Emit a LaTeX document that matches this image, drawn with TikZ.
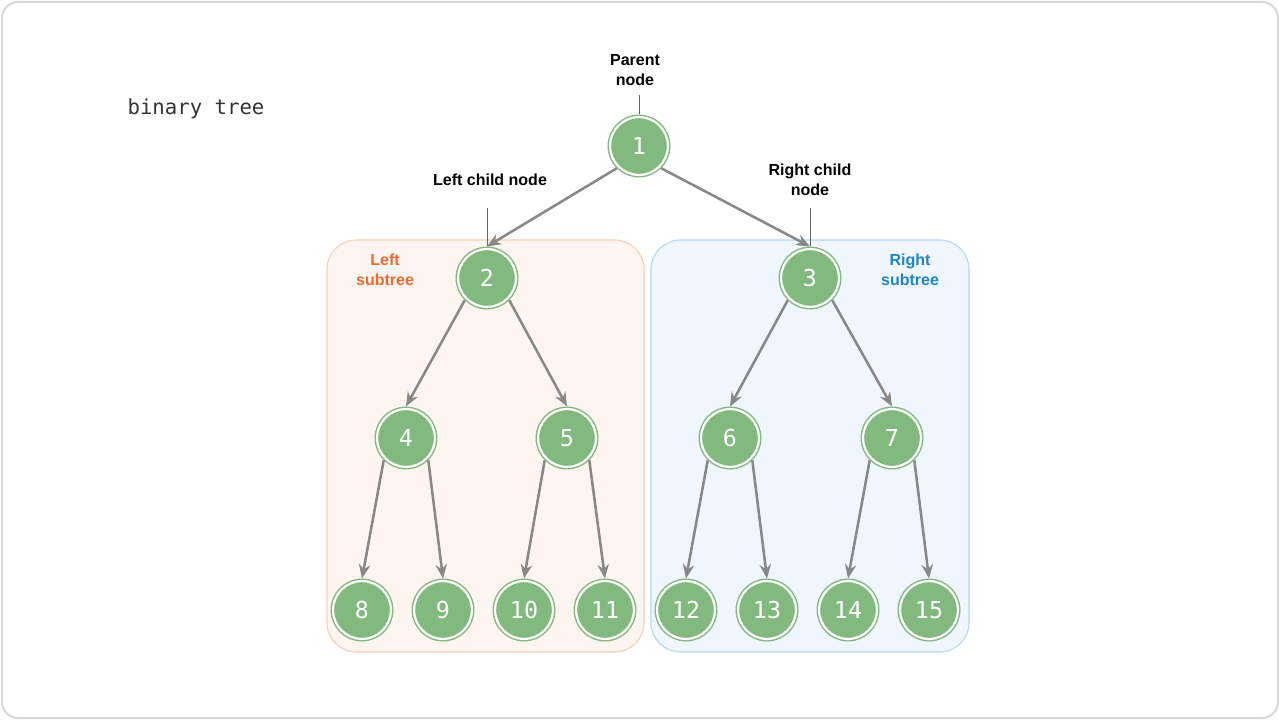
\documentclass[tikz,border=0pt]{standalone}
\usepackage{fontspec}
\setmainfont{Liberation Sans}
\newfontfamily\treemono{DejaVu Sans Mono}
\usetikzlibrary{arrows.meta, positioning}
\definecolor{nodegreen}{HTML}{82B97F}
\definecolor{edgegray}{HTML}{888888}
\definecolor{leftfill}{HTML}{FEF5F0}
\definecolor{leftline}{HTML}{F8CDB8}
\definecolor{lefttext}{HTML}{EE6A35}
\definecolor{rightfill}{HTML}{EFF6FD}
\definecolor{rightline}{HTML}{B5D8F3}
\definecolor{righttext}{HTML}{1E86C8}
\definecolor{framegray}{HTML}{DADADA}

\begin{document}
\begin{tikzpicture}[x=0.75pt, y=-0.75pt,
    tnode/.style={circle, fill=nodegreen, draw=nodegreen, double=white, double distance=1.65pt,
      line width=1.1pt, minimum size=43.4pt, inner sep=0pt, outer sep=1.95pt, text=white,
      font=\treemono\fontsize{17.5}{17.5}\selectfont},
    tedge/.style={-{Stealth[length=10.5pt, width=8.5pt]}, draw=edgegray, line width=1.9pt},
    callout/.style={align=center, font=\bfseries\fontsize{12}{15}\selectfont},
    pointer/.style={draw=gray!80!black, line width=0.6pt},
    subtree/.style={rounded corners=22pt, line width=0.8pt}]
			\useasboundingbox (0,0) rectangle (1280,720);
			\draw[framegray, fill=white, line width=1.5pt, rounded corners=12pt] (2,2) rectangle (1278,718);
			% subtrees
			\draw[subtree, fill=leftfill, draw=leftline] (327,240) rectangle (644,652);
			\draw[subtree, fill=rightfill, draw=rightline] (651,240) rectangle (969,652);
			\node[callout, text=lefttext] (lsub) at (385,270) {Left\\subtree};
			\node[callout, text=righttext] (rsub) at (910,270) {Right\\subtree};
			\node[text=black!80, font=\treemono\fontsize{15.5}{15.5}\selectfont] (title) at (196,109) {binary tree};
			% tree nodes
			\node[tnode] (n1) at (639,146) {1};
			\node[tnode] (n2) at (487,278) {2};
			\node[tnode] (n3) at (810,278) {3};
			\node[tnode] (n4) at (406,438) {4};
			\node[tnode] (n5) at (567,438) {5};
			\node[tnode] (n6) at (730,438) {6};
			\node[tnode] (n7) at (892,438) {7};
			\node[tnode] (n8) at (362,610) {8};
			\node[tnode] (n9) at (443,610) {9};
			\node[tnode] (n10) at (524,610) {10};
			\node[tnode] (n11) at (605,610) {11};
			\node[tnode] (n12) at (686,610) {12};
			\node[tnode] (n13) at (767,610) {13};
			\node[tnode] (n14) at (848,610) {14};
			\node[tnode] (n15) at (929,610) {15};
			% edges
			\draw[tedge] (n1.south west) -- (n2.north);
			\draw[tedge] (n1.south east) -- (n3.north);
			\draw[tedge] (n2.south west) -- (n4.north);
			\draw[tedge] (n2.south east) -- (n5.north);
			\draw[tedge] (n3.south west) -- (n6.north);
			\draw[tedge] (n3.south east) -- (n7.north);
			\draw[tedge] (n4.south west) -- (n8.north);
			\draw[tedge] (n4.south east) -- (n9.north);
			\draw[tedge] (n5.south west) -- (n10.north);
			\draw[tedge] (n5.south east) -- (n11.north);
			\draw[tedge] (n6.south west) -- (n12.north);
			\draw[tedge] (n6.south east) -- (n13.north);
			\draw[tedge] (n7.south west) -- (n14.north);
			\draw[tedge] (n7.south east) -- (n15.north);
			% callouts
			\node[callout] (parent) at (635,70) {Parent\\node};
			\node[callout] (lchild) at (490,180) {Left child node};
			\node[callout] (rchild) at (810,180) {Right child\\node};
			\coordinate (ptick) at (639,95);
			\coordinate (ltick) at (487,208);
			\coordinate (rtick) at (810,208);
			\draw[pointer] (ptick) -- (n1.north);
			\draw[pointer] (ltick) -- (n2.north);
			\draw[pointer] (rtick) -- (n3.north);
		\end{tikzpicture}
\end{document}
